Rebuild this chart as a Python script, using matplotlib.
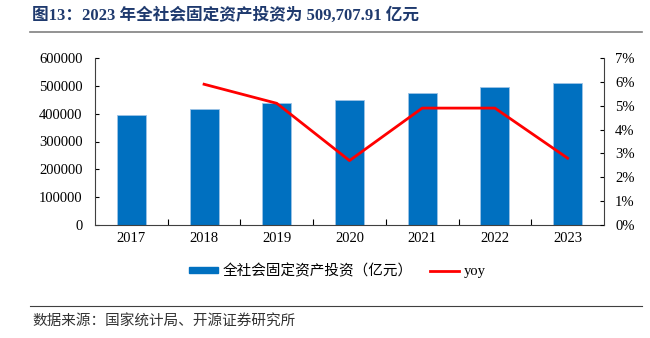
import matplotlib.pyplot as plt
from matplotlib.ticker import FuncFormatter, MultipleLocator
from matplotlib.lines import Line2D

plt.rcParams['font.family'] = ['Liberation Serif', 'Noto Sans CJK SC']
plt.rcParams['axes.unicode_minus'] = False

# data
years = ['2017', '2018', '2019', '2020', '2021', '2022', '2023']
investment = [394193, 417450, 438740, 450586, 472665, 495825, 509708]
yoy = [None, 5.9, 5.1, 2.7, 4.9, 4.9, 2.8]

fig = plt.figure(figsize=(6.5, 3.38), dpi=100)
ax = fig.add_axes([95 / 650, 1 - 225 / 338, 509 / 650, 167 / 338])
ax2 = ax.twinx()

x = list(range(len(years)))
ax.bar(x, investment, width=0.4, color='#0070C0', edgecolor='#9DC3E6', linewidth=0.6,
       label='全社会固定资产投资（亿元）', zorder=2)
ax.set_xlim(-0.5, len(years) - 0.5)
ax.set_ylim(0, 600000)
ax.yaxis.set_major_locator(MultipleLocator(100000))
ax.set_xticks(x)
ax.set_xticklabels(years)
ax.set_xticks([i + 0.5 for i in x[:-1]], minor=True)
ax.tick_params(axis='x', which='major', length=0, labelsize=10.5, pad=5)
ax.tick_params(axis='x', which='minor', direction='in', length=4, width=0.8)
ax.tick_params(axis='y', direction='in', length=3, width=0.8, labelsize=10.5, pad=9)

yx = [i for i, v in zip(x, yoy) if v is not None]
yv = [v for v in yoy if v is not None]
ax2.plot(yx, yv, color='#FF0000', linewidth=2, label='yoy', zorder=3)
ax2.set_ylim(0, 7)
ax2.yaxis.set_major_locator(MultipleLocator(1))
ax2.yaxis.set_major_formatter(FuncFormatter(lambda v, p: f'{v:.0f}%'))
ax2.tick_params(axis='y', direction='in', length=3, width=0.8, labelsize=10.5, pad=8)

for a in (ax, ax2):
    a.spines['top'].set_visible(False)
    for s in ('left', 'right', 'bottom'):
        a.spines[s].set_color('#404040')
        a.spines[s].set_linewidth(0.8)
ax.spines['right'].set_visible(False)
ax2.spines['left'].set_visible(False)
ax2.spines['bottom'].set_visible(False)

handles = [plt.Rectangle((0, 0), 1, 1, color='#0070C0'),
           Line2D([0], [0], color='#FF0000', linewidth=2)]
fig.legend(handles, ['全社会固定资产投资（亿元）', 'yoy'], loc='center',
           bbox_to_anchor=(337 / 650, 1 - 271 / 338), ncol=2, frameon=False,
           fontsize=10.5, handlelength=2.0, handleheight=0.3, columnspacing=1.2,
           handletextpad=0.3)

fig.text(32 / 650, 1 - 16 / 338, '图13：2023 年全社会固定资产投资为 509,707.91 亿元',
         fontsize=12, fontweight='bold', color='#1F3A6E', va='center', ha='left')
fig.add_artist(Line2D([30 / 650, 642 / 650], [1 - 32 / 338] * 2, color='#808080', linewidth=1.2))
fig.add_artist(Line2D([30 / 650, 642 / 650], [1 - 306 / 338] * 2, color='#404040', linewidth=0.8))
fig.text(32 / 650, 1 - 322 / 338, '数据来源：国家统计局、开源证券研究所', fontsize=10.5,
         color='#333333', va='center', ha='left')

fig.savefig('out.png', dpi=100)
